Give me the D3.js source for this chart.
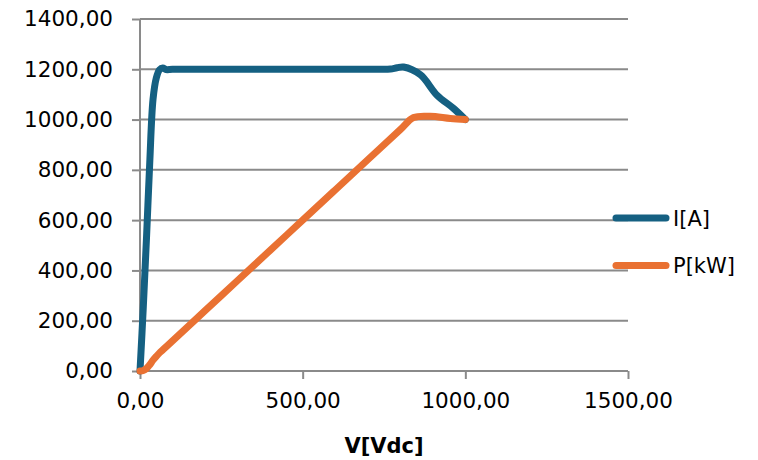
<!DOCTYPE html>
<html>
  <head>
    <meta charset="utf-8">
    <title>I / P vs V</title>
    <script src="https://cdn.jsdelivr.net/npm/d3@7"></script>
    <style>
      body { margin: 0; background: #fff; }
      text { font-family: "DejaVu Sans", sans-serif; fill: #000; }
    </style>
  </head>
  <body>
    <div id="chart"></div>
    <script>
      // values
      var currentV = [0, 10, 20, 30, 40, 50, 60, 70, 80, 100, 200, 300, 400, 500, 600, 700, 740, 770, 790, 810, 862, 913, 964, 1000];
      var currentA = [0, 250, 530, 830, 1080, 1165, 1198, 1205, 1199, 1200, 1200, 1200, 1200, 1200, 1200, 1200, 1200, 1201, 1206, 1209, 1178, 1097, 1044, 1000];
      var powerV = [0, 10, 20, 30, 40, 50, 60, 70, 80, 100, 200, 300, 400, 500, 600, 700, 800, 841, 892, 954, 1000];
      var powerKW = [0, 2, 10, 25, 43, 58, 72, 84, 96, 120, 240, 360, 480, 600, 720, 840, 960, 1008, 1013, 1004, 1000];

      var xTicks = [0, 500, 1000, 1500];
      var yTicks = [0, 200, 400, 600, 800, 1000, 1200, 1400];
      var seriesNames = ["I[A]", "P[kW]"];
      var colors = ["#156082", "#e97132"];
      var xTitle = "V[Vdc]";

      var W = 758, H = 460;
      var margin = {top: 19, right: 130, bottom: 89, left: 140},
          width = W - margin.left - margin.right,
          height = H - margin.top - margin.bottom;

      var fmt = d3.formatLocale({decimal: ",", thousands: ".", grouping: [3], currency: ["", ""]}).format(".2f");

      var x = d3.scaleLinear().domain([0, 1500]).range([0, width]);
      var y = d3.scaleLinear().domain([0, 1400]).range([height, 0]);

      var svg = d3.select("#chart").append("svg")
        .attr("width", W)
        .attr("height", H)
        .append("g")
        .attr("transform", "translate(" + margin.left + "," + margin.top + ")");

      // horizontal gridlines
      svg.append("g").selectAll("line")
        .data(yTicks)
        .enter().append("line")
        .attr("x1", 0).attr("x2", width)
        .attr("y1", d => y(d)).attr("y2", d => y(d))
        .attr("stroke", "#8a8a8a")
        .attr("stroke-width", 2);

      // y axis
      var yAxis = svg.append("g")
        .call(d3.axisLeft(y).tickValues(yTicks).tickFormat(fmt).tickSize(8).tickPadding(19));

      // x axis
      var xAxis = svg.append("g")
        .attr("transform", "translate(0," + height + ")")
        .call(d3.axisBottom(x).tickValues(xTicks).tickFormat(fmt).tickSize(8).tickPadding(14));

      [yAxis, xAxis].forEach(function(a) {
        a.selectAll("path, line").attr("stroke", "#8a8a8a").attr("stroke-width", 2);
        a.select(".domain").attr("d", a === yAxis ? "M0,0V" + height : "M0,0H" + width);
        a.selectAll("text").style("font-size", "21.5px").style("font-family", "DejaVu Sans, sans-serif").attr("fill", "#000");
      });

      // x title
      svg.append("text")
        .attr("x", width / 2)
        .attr("y", height + 82)
        .attr("text-anchor", "middle")
        .style("font-size", "21px")
        .style("font-weight", "bold")
        .text(xTitle);

      // lines
      var line = d3.line()
        .x(d => x(d[0]))
        .y(d => y(d[1]))
        .curve(d3.curveCatmullRom);

      var series = [
        currentV.map((v, i) => [v, currentA[i]]),
        powerV.map((v, i) => [v, powerKW[i]])
      ];

      svg.selectAll(".series")
        .data(series)
        .enter().append("path")
        .attr("class", "series")
        .attr("d", line)
        .attr("fill", "none")
        .attr("stroke", (d, i) => colors[i])
        .attr("stroke-width", 7)
        .attr("stroke-linejoin", "round")
        .attr("stroke-linecap", "round");

      // legend
      var legend = svg.append("g")
        .attr("transform", "translate(" + (616 - margin.left) + "," + (218 - margin.top) + ")");

      var item = legend.selectAll("g")
        .data(seriesNames)
        .enter().append("g")
        .attr("transform", (d, i) => "translate(0," + (i * 47.5) + ")");

      item.append("line")
        .attr("x1", 0).attr("x2", 50)
        .attr("stroke", (d, i) => colors[i])
        .attr("stroke-width", 7)
        .attr("stroke-linecap", "round");

      item.append("text")
        .attr("x", 57)
        .attr("dy", "0.36em")
        .style("font-size", "21px")
        .text(d => d);
    </script>
  </body>
</html>
